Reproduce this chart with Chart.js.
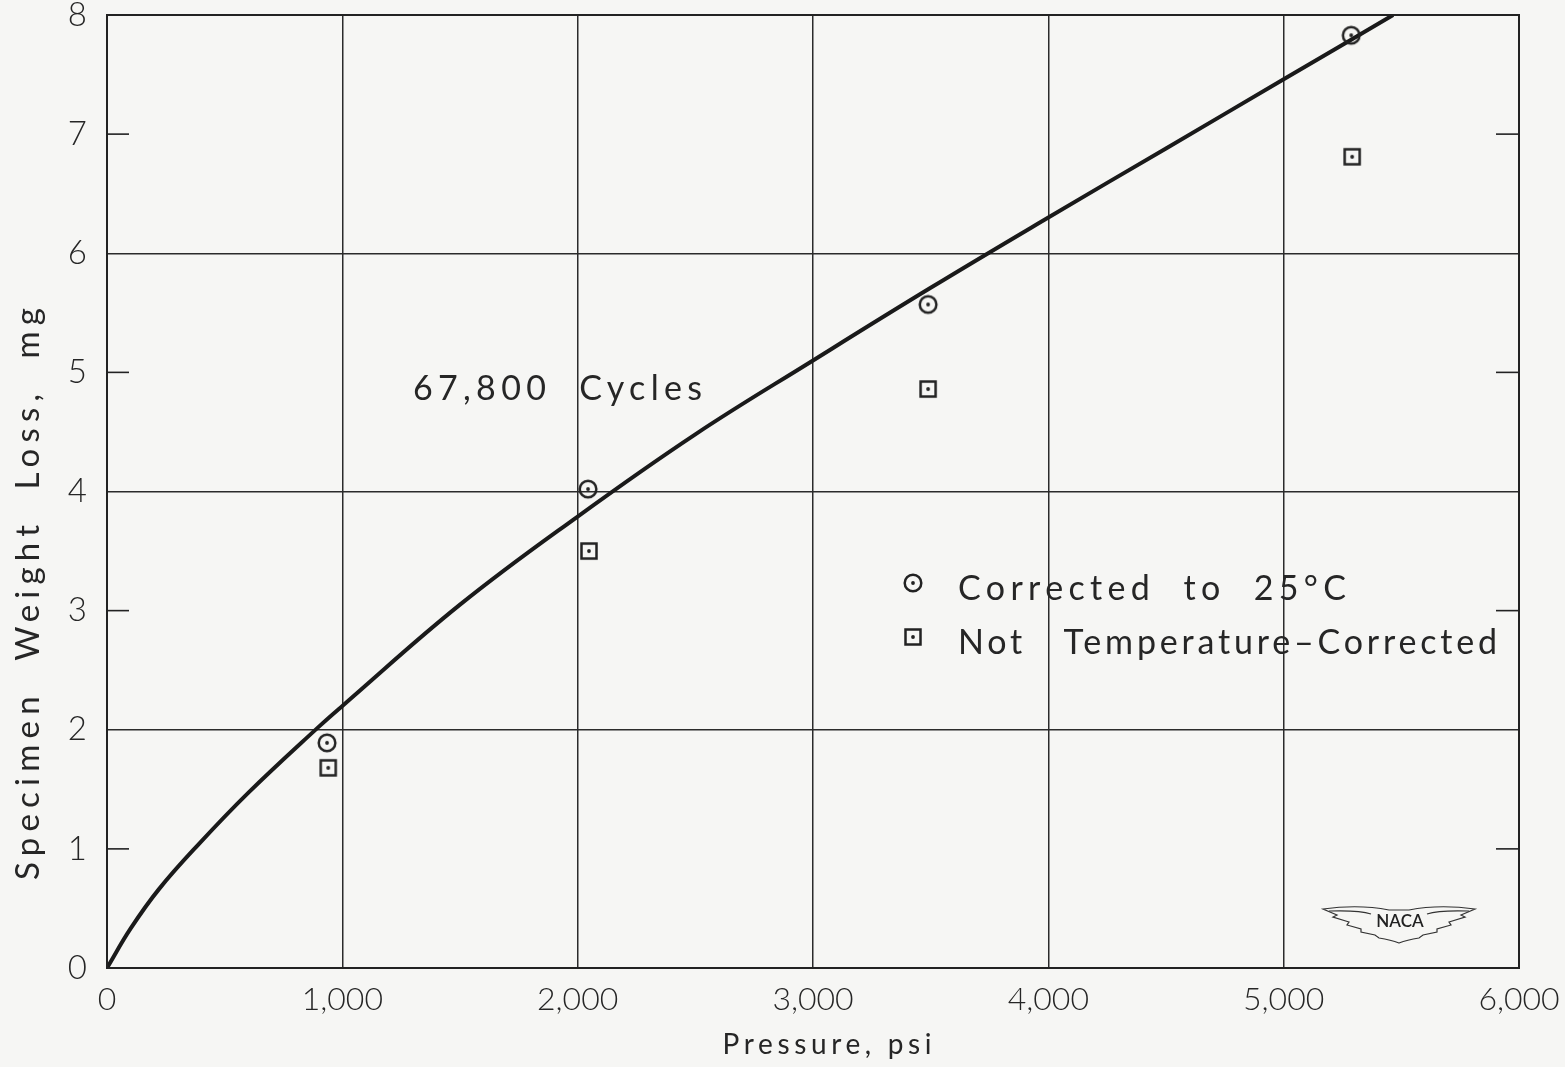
<!DOCTYPE html>
<html><head><meta charset="utf-8">
<script src="https://cdn.jsdelivr.net/npm/chart.js@4"></script>
<style>html,body{margin:0;padding:0;background:#f6f6f4;}</style>
</head><body>
<canvas id="c" width="1565" height="1067"></canvas>
<script>
// ---- data ----
const curvePressure = [0, 100, 220, 390, 600, 897, 1000, 1500, 2000, 2500, 3000, 3500, 4000, 4500, 5000, 5465];
const curveLoss     = [0, 0.33, 0.66, 1.04, 1.47, 2.02, 2.2, 3.05, 3.79, 4.48, 5.1, 5.71, 6.3, 6.88, 7.46, 8.0];
const correctedPressure = [935, 2044, 3489, 5287];
const correctedLoss     = [1.89, 4.02, 5.57, 7.83];
const rawPressure = [940, 2048, 3489, 5291];
const rawLoss     = [1.68, 3.50, 4.86, 6.81];
const xTickLabels = ['0', '1,000', '2,000', '3,000', '4,000', '5,000', '6,000'];
const yTickLabels = ['0', '1', '2', '3', '4', '5', '6', '7', '8'];
const legendLabels = ['Corrected  to  25\u00B0C', 'Not   Temperature\u2013Corrected'];
const annotationText = '67,800  Cycles';
const xTitle = 'Pressure, psi';
const yTitle = 'Specimen  Weight  Loss,  mg';

const INK = '#222222';
const TXT = '#262626';
const FONT = 'Lato, "DejaVu Sans", sans-serif';

function markerCanvas(kind) {
  const c = document.createElement('canvas');
  c.width = 24; c.height = 24;
  const g = c.getContext('2d');
  g.strokeStyle = INK; g.fillStyle = INK; g.lineWidth = 2.5;
  if (kind === 'circle') {
    g.beginPath(); g.arc(12, 12, 8.3, 0, Math.PI * 2); g.stroke();
  } else {
    g.strokeRect(4.5, 4.5, 15, 15);
  }
  g.beginPath(); g.arc(12, 12, 1.9, 0, Math.PI * 2); g.fill();
  return c;
}
const circleImg = markerCanvas('circle');
const squareImg = markerCanvas('square');

const toPts = (xs, ys) => xs.map((x, i) => ({ x, y: ys[i] }));

function fitText(g, text, x, y, width, font, align) {
  g.save();
  g.font = font;
  g.letterSpacing = '0px';
  const w = g.measureText(text).width;
  const ls = (width - w) / Math.max(1, text.length - 1);
  g.letterSpacing = ls + 'px';
  g.textBaseline = 'middle';
  g.textAlign = 'left';
  let sx = x;
  if (align === 'center') sx = x - width / 2;
  g.fillText(text, sx, y);
  g.restore();
}

const decor = {
  id: 'decor',
  beforeDraw(chart) {
    const g = chart.ctx;
    g.save(); g.fillStyle = '#f6f6f4'; g.fillRect(0, 0, chart.width, chart.height); g.restore();
  },
  afterDraw(chart) {
    const g = chart.ctx;
    const xs = chart.scales.x, ys = chart.scales.y;
    const L = xs.left, R = xs.right, T = ys.top, B = ys.bottom;
    g.save();
    g.strokeStyle = INK; g.lineWidth = 2;
    g.strokeRect(L, T, R - L, B - T);
    // inward ticks at odd values
    g.lineWidth = 1.6;
    [1, 3, 5, 7].forEach(v => {
      const py = ys.getPixelForValue(v);
      g.beginPath(); g.moveTo(L, py); g.lineTo(L + 22, py); g.stroke();
      g.beginPath(); g.moveTo(R, py); g.lineTo(R - 23, py); g.stroke();
    });
    g.fillStyle = TXT;
    // y title
    g.save();
    g.translate(28, 594);
    g.rotate(-Math.PI / 2);
    fitText(g, yTitle, 0, 0, 572, '400 33px ' + FONT, 'center');
    g.restore();
    // x title
    fitText(g, xTitle, 827, 1045, 209, '400 28px ' + FONT, 'center');
    // annotation
    fitText(g, annotationText, 413, 389, 289, '400 34px ' + FONT, 'left');
    // legend
    g.drawImage(circleImg, 913 - 12, 583 - 12);
    g.drawImage(squareImg, 913 - 12, 637 - 12);
    fitText(g, legendLabels[0], 958, 589, 388, '400 34px ' + FONT, 'left');
    fitText(g, legendLabels[1], 958, 643, 539, '400 34px ' + FONT, 'left');
    // NACA logo
    const cx = 1399, cy = 918;
    g.lineWidth = 1.2; g.strokeStyle = '#333';
    g.beginPath();
    g.moveTo(cx - 76, cy - 9);
    g.quadraticCurveTo(cx - 40, cy - 14, cx - 10, cy - 8);
    g.lineTo(cx + 10, cy - 8);
    g.quadraticCurveTo(cx + 40, cy - 14, cx + 76, cy - 9);
    g.lineTo(cx + 62, cy - 3); g.lineTo(cx + 66, cy - 1); g.lineTo(cx + 50, cy + 4);
    g.lineTo(cx + 52, cy + 7); g.lineTo(cx + 38, cy + 11); g.lineTo(cx + 38, cy + 14);
    g.lineTo(cx + 24, cy + 17); g.lineTo(cx + 20, cy + 20);
    g.quadraticCurveTo(cx + 8, cy + 22, cx, cy + 25);
    g.quadraticCurveTo(cx - 8, cy + 22, cx - 20, cy + 20);
    g.lineTo(cx - 24, cy + 17); g.lineTo(cx - 38, cy + 14); g.lineTo(cx - 38, cy + 11);
    g.lineTo(cx - 52, cy + 7); g.lineTo(cx - 50, cy + 4); g.lineTo(cx - 66, cy - 1);
    g.lineTo(cx - 62, cy - 3); g.closePath();
    g.stroke();
    g.beginPath();
    g.moveTo(cx - 70, cy - 7); g.quadraticCurveTo(cx - 40, cy - 8, cx - 28, cy - 4);
    g.moveTo(cx + 70, cy - 7); g.quadraticCurveTo(cx + 40, cy - 8, cx + 28, cy - 4);
    g.stroke();
    g.fillStyle = '#222';
    g.font = '600 17px ' + FONT; g.textAlign = 'center'; g.textBaseline = 'middle';
    g.fillText('NACA', cx + 1, cy + 4);
    g.restore();
  }
};

new Chart(document.getElementById('c'), {
  type: 'scatter',
  data: {
    datasets: [
      { type: 'line', data: toPts(curvePressure, curveLoss), borderColor: '#1a1a1a', borderWidth: 4,
        pointRadius: 0, tension: 0.4, fill: false, order: 2 },
      { data: toPts(correctedPressure, correctedLoss), pointStyle: circleImg, pointRadius: 12, order: 1 },
      { data: toPts(rawPressure, rawLoss), pointStyle: squareImg, pointRadius: 12, order: 1 }
    ]
  },
  options: {
    responsive: false, animation: false, devicePixelRatio: 1,
    layout: { padding: { top: 15, right: 46, left: 0, bottom: 0 } },
    plugins: { legend: { display: false }, tooltip: { enabled: false } },
    scales: {
      x: {
        type: 'linear', min: 0, max: 6000,
        afterFit: s => { s.height = 99; s.paddingLeft = 0; s.paddingRight = 0; },
        ticks: { stepSize: 1000, padding: 12, color: TXT,
          font: { family: FONT, size: 32, weight: '300' },
          callback: (v, i) => xTickLabels[i] },
        grid: { color: '#2b2b2b', lineWidth: 1.5, drawTicks: false },
        border: { color: INK, width: 2 }
      },
      y: {
        min: 0, max: 8,
        afterFit: s => { s.width = 107; s.paddingTop = 0; s.paddingBottom = 0; },
        ticks: { stepSize: 1, padding: 20, color: TXT,
          font: { family: FONT, size: 33, weight: '300' },
          callback: (v, i) => yTickLabels[i] },
        grid: { color: c => (c.tick && c.tick.value % 2 === 0) ? '#2b2b2b' : 'rgba(0,0,0,0)', lineWidth: 1.5, drawTicks: false },
        border: { color: INK, width: 2 }
      }
    }
  },
  plugins: [decor]
});
</script>
</body></html>
